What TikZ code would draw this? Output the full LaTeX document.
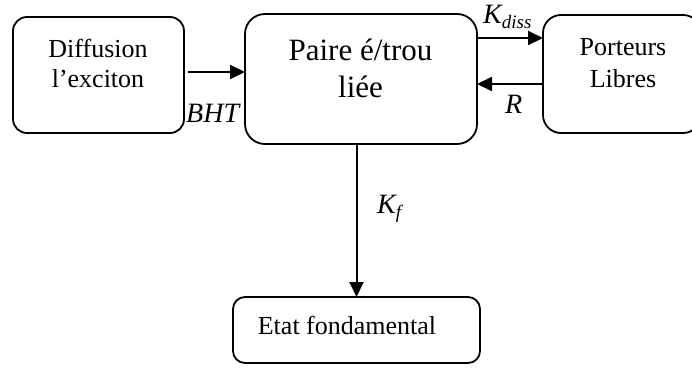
\documentclass[tikz,border=0pt]{standalone}
\usepackage{fontspec}
\setmainfont{Liberation Serif}
\usetikzlibrary{arrows.meta}
\tikzset{
  box/.style={draw, line width=1.8pt, inner sep=0pt, outer sep=0pt},
  arr/.style={line width=2pt, -{Triangle[length=15pt,width=14pt]}},
  txt/.style={inner sep=0pt, anchor=base},
  lbl/.style={inner sep=0pt, anchor=base west},
}
\newcommand{\bigtxt}{\fontsize{26}{30}\selectfont}
\newcommand{\hugetxt}{\fontsize{31}{36}\selectfont}
\newcommand{\mtxt}{\fontsize{28}{32}\selectfont\itshape}
\newcommand{\stxt}{\fontsize{19}{22}\selectfont\itshape}
\begin{document}
\begin{tikzpicture}[x=1pt,y=-1pt]
\useasboundingbox (0,0) rectangle (692,367);
% boxes
\node[box, rounded corners=14pt, minimum width=171pt, minimum height=116pt] (d) at (98.5,75) {};
\node[box, rounded corners=20pt, minimum width=232pt, minimum height=130pt] (p) at (361,79) {};
\node[box, rounded corners=18pt, minimum width=158pt, minimum height=118pt] (l) at (622,74) {};
\node[box, rounded corners=12pt, minimum width=247pt, minimum height=66pt] (e) at (356.5,330) {};
% texts
\node[txt] (d1) at (98,57) {\bigtxt Diffusion};
\node[txt] (d2) at (98,87) {\bigtxt l’exciton};
\node[txt] (p1) at (360.5,60) {\hugetxt Paire é/trou};
\node[txt] (p2) at (360.5,97) {\hugetxt liée};
\node[txt] (l1) at (623,55) {\bigtxt Porteurs};
\node[txt] (l2) at (623,87) {\bigtxt Libres};
\node[txt] (e1) at (347,334) {\bigtxt Etat fondamental};
% labels
\node[lbl] (kd) at (483,23) {\mtxt K\raisebox{-5pt}{\stxt diss}};
\node[lbl] (r) at (505,113) {\mtxt R};
\node[lbl] (kf) at (377,213) {\mtxt K\raisebox{-5pt}{\stxt f}};
\node[lbl] (bht) at (186,122) {\mtxt BHT};
% connectors
\draw[arr] ([shift={(4,-3)}]d.east) coordinate (a1) -- (a1 -| p.west);
\draw[arr] ([yshift=41pt]p.east) coordinate (a2) -- (a2 -| l.west);
\draw[arr] ([yshift=-10pt]l.west) coordinate (a3) -- (a3 -| p.east);
\draw[arr] (e.north |- p.south) -- (e.north);
\end{tikzpicture}
\end{document}
